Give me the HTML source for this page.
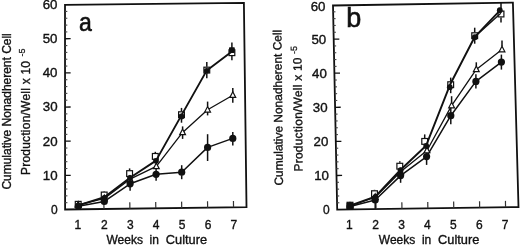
<!DOCTYPE html>
<html><head><meta charset="utf-8"><style>
html,body{margin:0;padding:0;background:#fff;}
body{width:520px;height:246px;overflow:hidden;}
svg{display:block;filter:grayscale(1);}
.t{font-family:"Liberation Sans",sans-serif;font-size:12px;fill:#111;stroke:#111;stroke-width:0.35px;}
.sup{font-family:"Liberation Sans",sans-serif;font-size:9px;fill:#111;stroke:#111;stroke-width:0.25px;}
.pl{font-family:"Liberation Sans",sans-serif;font-size:27px;fill:#111;stroke:#111;stroke-width:0.6px;}
</style></head><body>
<svg width="520" height="246" viewBox="0 0 520 246">
<rect width="520" height="246" fill="#fff"/>
<polygon points="65.00,4.90 243.90,2.80 246.50,207.20 65.10,209.50" fill="none" stroke="#111" stroke-width="1.8" stroke-linejoin="miter"/>
<line x1="65.10" y1="202.67" x2="67.40" y2="202.67" stroke="#444" stroke-width="1.1"/>
<line x1="65.09" y1="195.84" x2="67.39" y2="195.84" stroke="#444" stroke-width="1.1"/>
<line x1="65.09" y1="189.01" x2="67.39" y2="189.01" stroke="#444" stroke-width="1.1"/>
<line x1="65.09" y1="182.18" x2="67.39" y2="182.18" stroke="#444" stroke-width="1.1"/>
<line x1="65.08" y1="175.35" x2="70.68" y2="175.28" stroke="#111" stroke-width="1.3"/>
<line x1="65.08" y1="168.52" x2="67.38" y2="168.52" stroke="#444" stroke-width="1.1"/>
<line x1="65.08" y1="161.69" x2="67.38" y2="161.69" stroke="#444" stroke-width="1.1"/>
<line x1="65.07" y1="154.86" x2="67.37" y2="154.86" stroke="#444" stroke-width="1.1"/>
<line x1="65.07" y1="148.03" x2="67.37" y2="148.03" stroke="#444" stroke-width="1.1"/>
<line x1="65.07" y1="141.20" x2="70.67" y2="141.13" stroke="#111" stroke-width="1.3"/>
<line x1="65.06" y1="134.37" x2="67.36" y2="134.37" stroke="#444" stroke-width="1.1"/>
<line x1="65.06" y1="127.54" x2="67.36" y2="127.54" stroke="#444" stroke-width="1.1"/>
<line x1="65.06" y1="120.71" x2="67.36" y2="120.71" stroke="#444" stroke-width="1.1"/>
<line x1="65.05" y1="113.88" x2="67.35" y2="113.88" stroke="#444" stroke-width="1.1"/>
<line x1="65.05" y1="107.05" x2="70.65" y2="106.98" stroke="#111" stroke-width="1.3"/>
<line x1="65.05" y1="100.22" x2="67.35" y2="100.22" stroke="#444" stroke-width="1.1"/>
<line x1="65.04" y1="93.39" x2="67.34" y2="93.39" stroke="#444" stroke-width="1.1"/>
<line x1="65.04" y1="86.56" x2="67.34" y2="86.56" stroke="#444" stroke-width="1.1"/>
<line x1="65.04" y1="79.73" x2="67.34" y2="79.73" stroke="#444" stroke-width="1.1"/>
<line x1="65.03" y1="72.90" x2="70.63" y2="72.83" stroke="#111" stroke-width="1.3"/>
<line x1="65.03" y1="66.07" x2="67.33" y2="66.07" stroke="#444" stroke-width="1.1"/>
<line x1="65.03" y1="59.24" x2="67.33" y2="59.24" stroke="#444" stroke-width="1.1"/>
<line x1="65.02" y1="52.41" x2="67.32" y2="52.41" stroke="#444" stroke-width="1.1"/>
<line x1="65.02" y1="45.58" x2="67.32" y2="45.58" stroke="#444" stroke-width="1.1"/>
<line x1="65.02" y1="38.75" x2="70.62" y2="38.68" stroke="#111" stroke-width="1.3"/>
<line x1="65.01" y1="31.92" x2="67.31" y2="31.92" stroke="#444" stroke-width="1.1"/>
<line x1="65.01" y1="25.09" x2="67.31" y2="25.09" stroke="#444" stroke-width="1.1"/>
<line x1="65.01" y1="18.26" x2="67.31" y2="18.26" stroke="#444" stroke-width="1.1"/>
<line x1="65.00" y1="11.43" x2="67.30" y2="11.43" stroke="#444" stroke-width="1.1"/>
<line x1="78.06" y1="209.34" x2="77.96" y2="202.94" stroke="#333" stroke-width="1.2"/>
<line x1="103.97" y1="209.01" x2="103.87" y2="202.61" stroke="#333" stroke-width="1.2"/>
<line x1="129.89" y1="208.68" x2="129.79" y2="202.28" stroke="#333" stroke-width="1.2"/>
<line x1="155.80" y1="208.35" x2="155.70" y2="201.95" stroke="#333" stroke-width="1.2"/>
<line x1="181.71" y1="208.02" x2="181.61" y2="201.62" stroke="#333" stroke-width="1.2"/>
<line x1="207.63" y1="207.69" x2="207.53" y2="201.29" stroke="#333" stroke-width="1.2"/>
<line x1="233.54" y1="207.36" x2="233.44" y2="200.96" stroke="#333" stroke-width="1.2"/>
<polyline points="78.30,206.30 104.30,201.40 130.10,183.80 156.10,174.30 181.70,172.20 207.60,147.40 232.80,138.40" fill="none" stroke="#111" stroke-width="1.5" stroke-linejoin="round"/>
<polyline points="78.20,205.00 104.30,198.40 130.00,179.20 156.30,166.40 182.60,132.40 207.60,109.80 232.80,95.20" fill="none" stroke="#111" stroke-width="1.3" stroke-linejoin="round"/>
<polyline points="78.20,205.40 104.30,197.20 130.00,177.80 156.00,160.60 181.40,115.40 206.80,70.40 231.90,51.60" fill="none" stroke="#111" stroke-width="1.9" stroke-linejoin="round"/>
<line x1="130.10" y1="176.80" x2="130.10" y2="180.80" stroke="#111" stroke-width="1.5"/>
<line x1="130.10" y1="186.80" x2="130.10" y2="190.80" stroke="#111" stroke-width="1.5"/>
<line x1="156.10" y1="169.00" x2="156.10" y2="171.30" stroke="#111" stroke-width="1.5"/>
<line x1="156.10" y1="177.30" x2="156.10" y2="180.80" stroke="#111" stroke-width="1.5"/>
<line x1="181.70" y1="165.20" x2="181.70" y2="169.20" stroke="#111" stroke-width="1.5"/>
<line x1="181.70" y1="175.20" x2="181.70" y2="179.20" stroke="#111" stroke-width="1.5"/>
<line x1="207.60" y1="134.20" x2="207.60" y2="144.40" stroke="#111" stroke-width="1.5"/>
<line x1="207.60" y1="150.40" x2="207.60" y2="161.00" stroke="#111" stroke-width="1.5"/>
<line x1="232.80" y1="132.00" x2="232.80" y2="135.40" stroke="#111" stroke-width="1.5"/>
<line x1="232.80" y1="141.40" x2="232.80" y2="145.40" stroke="#111" stroke-width="1.5"/>
<line x1="182.60" y1="126.40" x2="182.60" y2="129.40" stroke="#111" stroke-width="1.5"/>
<line x1="182.60" y1="134.40" x2="182.60" y2="138.90" stroke="#111" stroke-width="1.5"/>
<line x1="207.60" y1="101.60" x2="207.60" y2="106.80" stroke="#111" stroke-width="1.5"/>
<line x1="207.60" y1="111.80" x2="207.60" y2="115.40" stroke="#111" stroke-width="1.5"/>
<line x1="232.80" y1="88.00" x2="232.80" y2="92.20" stroke="#111" stroke-width="1.5"/>
<line x1="232.80" y1="97.20" x2="232.80" y2="102.80" stroke="#111" stroke-width="1.5"/>
<line x1="104.20" y1="191.00" x2="104.20" y2="191.60" stroke="#111" stroke-width="1.5"/>
<line x1="129.60" y1="168.40" x2="129.60" y2="170.20" stroke="#111" stroke-width="1.5"/>
<line x1="155.30" y1="151.80" x2="155.30" y2="153.00" stroke="#111" stroke-width="1.5"/>
<line x1="181.50" y1="107.90" x2="181.50" y2="111.30" stroke="#111" stroke-width="1.5"/>
<line x1="181.50" y1="118.10" x2="181.50" y2="122.70" stroke="#111" stroke-width="1.5"/>
<line x1="206.80" y1="62.10" x2="206.80" y2="66.70" stroke="#111" stroke-width="1.5"/>
<line x1="206.80" y1="73.50" x2="206.80" y2="78.20" stroke="#111" stroke-width="1.5"/>
<line x1="231.90" y1="42.50" x2="231.90" y2="49.30" stroke="#111" stroke-width="1.5"/>
<line x1="231.90" y1="56.10" x2="231.90" y2="60.30" stroke="#111" stroke-width="1.5"/>
<polygon points="78.20,201.64 81.10,207.24 75.30,207.24" fill="#fff" stroke="#111" stroke-width="1.2"/>
<polygon points="104.30,195.04 107.20,200.64 101.40,200.64" fill="#fff" stroke="#111" stroke-width="1.2"/>
<polygon points="130.00,175.84 132.90,181.44 127.10,181.44" fill="#fff" stroke="#111" stroke-width="1.2"/>
<polygon points="156.30,163.04 159.20,168.64 153.40,168.64" fill="#fff" stroke="#111" stroke-width="1.2"/>
<polygon points="182.60,129.04 185.50,134.64 179.70,134.64" fill="#fff" stroke="#111" stroke-width="1.2"/>
<polygon points="207.60,106.44 210.50,112.04 204.70,112.04" fill="#fff" stroke="#111" stroke-width="1.2"/>
<polygon points="232.80,91.84 235.70,97.44 229.90,97.44" fill="#fff" stroke="#111" stroke-width="1.2"/>
<rect x="75.30" y="201.40" width="5.8" height="5.8" fill="none" stroke="#111" stroke-width="1.2"/>
<rect x="101.30" y="192.10" width="5.8" height="5.8" fill="none" stroke="#111" stroke-width="1.2"/>
<rect x="126.70" y="170.70" width="5.8" height="5.8" fill="none" stroke="#111" stroke-width="1.2"/>
<rect x="152.40" y="153.50" width="5.8" height="5.8" fill="none" stroke="#111" stroke-width="1.2"/>
<rect x="178.60" y="111.80" width="5.8" height="5.8" fill="none" stroke="#111" stroke-width="1.2"/>
<rect x="203.90" y="67.20" width="5.8" height="5.8" fill="none" stroke="#111" stroke-width="1.2"/>
<rect x="229.00" y="49.80" width="5.8" height="5.8" fill="none" stroke="#111" stroke-width="1.2"/>
<circle cx="78.20" cy="205.80" r="2.9" fill="#111"/>
<circle cx="104.40" cy="198.00" r="2.9" fill="#111"/>
<circle cx="130.00" cy="178.00" r="2.9" fill="#111"/>
<circle cx="156.00" cy="160.80" r="2.9" fill="#111"/>
<circle cx="181.50" cy="116.50" r="3.0" fill="#111"/>
<circle cx="206.70" cy="70.80" r="2.8" fill="#111"/>
<rect x="229.00" y="47.30" width="5.8" height="5.8" rx="0.8" fill="#111"/>
<circle cx="78.30" cy="206.30" r="3.6" fill="#111"/>
<circle cx="104.30" cy="201.40" r="3.6" fill="#111"/>
<circle cx="130.10" cy="183.80" r="3.6" fill="#111"/>
<circle cx="156.10" cy="174.30" r="3.6" fill="#111"/>
<circle cx="181.70" cy="172.20" r="3.6" fill="#111"/>
<circle cx="207.60" cy="147.40" r="3.6" fill="#111"/>
<circle cx="232.80" cy="138.40" r="3.6" fill="#111"/>
<text x="57.70" y="214.10" text-anchor="end" class="t">0</text>
<text x="57.58" y="179.75" text-anchor="end" class="t" textLength="14.8" lengthAdjust="spacingAndGlyphs">10</text>
<text x="57.57" y="145.60" text-anchor="end" class="t" textLength="14.8" lengthAdjust="spacingAndGlyphs">20</text>
<text x="57.55" y="111.45" text-anchor="end" class="t" textLength="14.8" lengthAdjust="spacingAndGlyphs">30</text>
<text x="57.53" y="77.30" text-anchor="end" class="t" textLength="14.8" lengthAdjust="spacingAndGlyphs">40</text>
<text x="57.52" y="43.15" text-anchor="end" class="t" textLength="14.8" lengthAdjust="spacingAndGlyphs">50</text>
<text x="57.50" y="9.00" text-anchor="end" class="t" textLength="14.8" lengthAdjust="spacingAndGlyphs">60</text>
<text x="77.96" y="228.7" text-anchor="middle" class="t">1</text>
<text x="104.37" y="228.7" text-anchor="middle" class="t">2</text>
<text x="130.29" y="228.7" text-anchor="middle" class="t">3</text>
<text x="156.20" y="228.7" text-anchor="middle" class="t">4</text>
<text x="182.11" y="228.7" text-anchor="middle" class="t">5</text>
<text x="208.03" y="228.7" text-anchor="middle" class="t">6</text>
<text x="233.94" y="228.7" text-anchor="middle" class="t">7</text>
<polygon points="333.00,5.50 512.90,2.60 518.50,207.10 337.20,209.60" fill="none" stroke="#111" stroke-width="1.8" stroke-linejoin="miter"/>
<line x1="337.06" y1="202.78" x2="339.36" y2="202.78" stroke="#444" stroke-width="1.1"/>
<line x1="336.92" y1="195.96" x2="339.22" y2="195.96" stroke="#444" stroke-width="1.1"/>
<line x1="336.78" y1="189.14" x2="339.08" y2="189.14" stroke="#444" stroke-width="1.1"/>
<line x1="336.64" y1="182.32" x2="338.94" y2="182.32" stroke="#444" stroke-width="1.1"/>
<line x1="336.50" y1="175.50" x2="342.10" y2="175.43" stroke="#111" stroke-width="1.3"/>
<line x1="336.36" y1="168.68" x2="338.66" y2="168.68" stroke="#444" stroke-width="1.1"/>
<line x1="336.22" y1="161.86" x2="338.52" y2="161.86" stroke="#444" stroke-width="1.1"/>
<line x1="336.08" y1="155.04" x2="338.38" y2="155.04" stroke="#444" stroke-width="1.1"/>
<line x1="335.94" y1="148.22" x2="338.24" y2="148.22" stroke="#444" stroke-width="1.1"/>
<line x1="335.80" y1="141.40" x2="341.40" y2="141.33" stroke="#111" stroke-width="1.3"/>
<line x1="335.66" y1="134.58" x2="337.96" y2="134.58" stroke="#444" stroke-width="1.1"/>
<line x1="335.52" y1="127.76" x2="337.82" y2="127.76" stroke="#444" stroke-width="1.1"/>
<line x1="335.38" y1="120.94" x2="337.68" y2="120.94" stroke="#444" stroke-width="1.1"/>
<line x1="335.24" y1="114.12" x2="337.54" y2="114.12" stroke="#444" stroke-width="1.1"/>
<line x1="335.10" y1="107.30" x2="340.70" y2="107.23" stroke="#111" stroke-width="1.3"/>
<line x1="334.96" y1="100.48" x2="337.26" y2="100.48" stroke="#444" stroke-width="1.1"/>
<line x1="334.82" y1="93.66" x2="337.12" y2="93.66" stroke="#444" stroke-width="1.1"/>
<line x1="334.68" y1="86.84" x2="336.98" y2="86.84" stroke="#444" stroke-width="1.1"/>
<line x1="334.54" y1="80.02" x2="336.84" y2="80.02" stroke="#444" stroke-width="1.1"/>
<line x1="334.40" y1="73.20" x2="340.00" y2="73.13" stroke="#111" stroke-width="1.3"/>
<line x1="334.26" y1="66.38" x2="336.56" y2="66.38" stroke="#444" stroke-width="1.1"/>
<line x1="334.12" y1="59.56" x2="336.42" y2="59.56" stroke="#444" stroke-width="1.1"/>
<line x1="333.98" y1="52.74" x2="336.28" y2="52.74" stroke="#444" stroke-width="1.1"/>
<line x1="333.84" y1="45.92" x2="336.14" y2="45.92" stroke="#444" stroke-width="1.1"/>
<line x1="333.70" y1="39.10" x2="339.30" y2="39.03" stroke="#111" stroke-width="1.3"/>
<line x1="333.56" y1="32.28" x2="335.86" y2="32.28" stroke="#444" stroke-width="1.1"/>
<line x1="333.42" y1="25.46" x2="335.72" y2="25.46" stroke="#444" stroke-width="1.1"/>
<line x1="333.28" y1="18.64" x2="335.58" y2="18.64" stroke="#444" stroke-width="1.1"/>
<line x1="333.14" y1="11.82" x2="335.44" y2="11.82" stroke="#444" stroke-width="1.1"/>
<line x1="350.15" y1="209.42" x2="350.05" y2="203.02" stroke="#333" stroke-width="1.2"/>
<line x1="376.05" y1="209.06" x2="375.95" y2="202.66" stroke="#333" stroke-width="1.2"/>
<line x1="401.95" y1="208.71" x2="401.85" y2="202.31" stroke="#333" stroke-width="1.2"/>
<line x1="427.85" y1="208.35" x2="427.75" y2="201.95" stroke="#333" stroke-width="1.2"/>
<line x1="453.75" y1="207.99" x2="453.65" y2="201.59" stroke="#333" stroke-width="1.2"/>
<line x1="479.65" y1="207.64" x2="479.55" y2="201.24" stroke="#333" stroke-width="1.2"/>
<line x1="505.55" y1="207.28" x2="505.45" y2="200.88" stroke="#333" stroke-width="1.2"/>
<polyline points="350.00,206.40 375.20,200.00 400.60,175.60 426.60,156.60 450.80,115.70 475.90,81.40 501.40,62.10" fill="none" stroke="#111" stroke-width="1.5" stroke-linejoin="round"/>
<polyline points="350.00,206.00 375.20,197.20 400.60,171.80 427.00,150.50 451.60,105.60 476.30,69.40 502.00,49.60" fill="none" stroke="#111" stroke-width="1.3" stroke-linejoin="round"/>
<polyline points="350.00,205.60 375.20,196.60 400.40,170.00 426.00,145.80 450.00,84.80 474.80,36.80 499.80,10.60" fill="none" stroke="#111" stroke-width="1.9" stroke-linejoin="round"/>
<polyline points="474.80,36.80 500.80,13.20" fill="none" stroke="#111" stroke-width="1.3" stroke-linejoin="round"/>
<line x1="375.20" y1="203.00" x2="375.20" y2="208.80" stroke="#111" stroke-width="1.5"/>
<line x1="400.60" y1="168.60" x2="400.60" y2="172.60" stroke="#111" stroke-width="1.5"/>
<line x1="400.60" y1="178.60" x2="400.60" y2="182.80" stroke="#111" stroke-width="1.5"/>
<line x1="426.60" y1="148.30" x2="426.60" y2="153.60" stroke="#111" stroke-width="1.5"/>
<line x1="426.60" y1="159.60" x2="426.60" y2="164.90" stroke="#111" stroke-width="1.5"/>
<line x1="450.80" y1="107.20" x2="450.80" y2="112.70" stroke="#111" stroke-width="1.5"/>
<line x1="450.80" y1="118.70" x2="450.80" y2="124.20" stroke="#111" stroke-width="1.5"/>
<line x1="475.90" y1="74.30" x2="475.90" y2="78.40" stroke="#111" stroke-width="1.5"/>
<line x1="475.90" y1="84.40" x2="475.90" y2="88.50" stroke="#111" stroke-width="1.5"/>
<line x1="501.40" y1="54.60" x2="501.40" y2="59.10" stroke="#111" stroke-width="1.5"/>
<line x1="501.40" y1="65.10" x2="501.40" y2="69.60" stroke="#111" stroke-width="1.5"/>
<line x1="451.60" y1="96.20" x2="451.60" y2="102.60" stroke="#111" stroke-width="1.5"/>
<line x1="476.30" y1="62.30" x2="476.30" y2="66.40" stroke="#111" stroke-width="1.5"/>
<line x1="502.00" y1="40.50" x2="502.00" y2="46.60" stroke="#111" stroke-width="1.5"/>
<line x1="374.50" y1="189.80" x2="374.50" y2="190.30" stroke="#111" stroke-width="1.5"/>
<line x1="399.80" y1="161.20" x2="399.80" y2="162.80" stroke="#111" stroke-width="1.5"/>
<line x1="424.70" y1="134.40" x2="424.70" y2="138.00" stroke="#111" stroke-width="1.5"/>
<line x1="450.70" y1="77.60" x2="450.70" y2="81.30" stroke="#111" stroke-width="1.5"/>
<line x1="450.70" y1="88.10" x2="450.70" y2="93.20" stroke="#111" stroke-width="1.5"/>
<line x1="474.70" y1="27.70" x2="474.70" y2="32.30" stroke="#111" stroke-width="1.5"/>
<line x1="474.70" y1="39.10" x2="474.70" y2="43.70" stroke="#111" stroke-width="1.5"/>
<line x1="501.00" y1="2.80" x2="501.00" y2="10.60" stroke="#111" stroke-width="1.5"/>
<line x1="501.00" y1="17.40" x2="501.00" y2="22.40" stroke="#111" stroke-width="1.5"/>
<polygon points="350.00,202.64 352.90,208.24 347.10,208.24" fill="#fff" stroke="#111" stroke-width="1.2"/>
<polygon points="375.20,193.84 378.10,199.44 372.30,199.44" fill="#fff" stroke="#111" stroke-width="1.2"/>
<polygon points="400.60,168.44 403.50,174.04 397.70,174.04" fill="#fff" stroke="#111" stroke-width="1.2"/>
<polygon points="427.00,147.14 429.90,152.74 424.10,152.74" fill="#fff" stroke="#111" stroke-width="1.2"/>
<polygon points="451.60,102.24 454.50,107.84 448.70,107.84" fill="#fff" stroke="#111" stroke-width="1.2"/>
<polygon points="476.30,66.04 479.20,71.64 473.40,71.64" fill="#fff" stroke="#111" stroke-width="1.2"/>
<polygon points="502.00,46.24 504.90,51.84 499.10,51.84" fill="#fff" stroke="#111" stroke-width="1.2"/>
<rect x="347.10" y="202.30" width="5.8" height="5.8" fill="none" stroke="#111" stroke-width="1.2"/>
<rect x="371.60" y="190.80" width="5.8" height="5.8" fill="none" stroke="#111" stroke-width="1.2"/>
<rect x="396.90" y="163.30" width="5.8" height="5.8" fill="none" stroke="#111" stroke-width="1.2"/>
<rect x="421.80" y="138.50" width="5.8" height="5.8" fill="none" stroke="#111" stroke-width="1.2"/>
<rect x="447.80" y="81.80" width="5.8" height="5.8" fill="none" stroke="#111" stroke-width="1.2"/>
<rect x="471.80" y="32.80" width="5.8" height="5.8" fill="none" stroke="#111" stroke-width="1.2"/>
<rect x="498.10" y="11.10" width="5.8" height="5.8" fill="none" stroke="#111" stroke-width="1.2"/>
<rect x="346.70" y="202.50" width="6.6" height="6.6" rx="0.8" fill="#111"/>
<circle cx="375.40" cy="196.80" r="2.9" fill="#111"/>
<circle cx="400.60" cy="170.20" r="2.9" fill="#111"/>
<circle cx="426.20" cy="146.00" r="2.9" fill="#111"/>
<circle cx="449.80" cy="87.20" r="2.9" fill="#111"/>
<circle cx="474.80" cy="37.20" r="2.9" fill="#111"/>
<circle cx="499.80" cy="10.20" r="2.9" fill="#111"/>
<circle cx="350.00" cy="206.40" r="3.6" fill="#111"/>
<circle cx="375.20" cy="200.00" r="3.6" fill="#111"/>
<circle cx="400.60" cy="175.60" r="3.6" fill="#111"/>
<circle cx="426.60" cy="156.60" r="3.6" fill="#111"/>
<circle cx="450.80" cy="115.70" r="3.6" fill="#111"/>
<circle cx="475.90" cy="81.40" r="3.6" fill="#111"/>
<circle cx="501.40" cy="62.10" r="3.6" fill="#111"/>
<text x="329.80" y="214.20" text-anchor="end" class="t">0</text>
<text x="329.00" y="179.90" text-anchor="end" class="t" textLength="14.8" lengthAdjust="spacingAndGlyphs">10</text>
<text x="328.30" y="145.80" text-anchor="end" class="t" textLength="14.8" lengthAdjust="spacingAndGlyphs">20</text>
<text x="327.60" y="111.70" text-anchor="end" class="t" textLength="14.8" lengthAdjust="spacingAndGlyphs">30</text>
<text x="326.90" y="77.60" text-anchor="end" class="t" textLength="14.8" lengthAdjust="spacingAndGlyphs">40</text>
<text x="326.20" y="43.50" text-anchor="end" class="t" textLength="14.8" lengthAdjust="spacingAndGlyphs">50</text>
<text x="325.50" y="10.70" text-anchor="end" class="t" textLength="14.8" lengthAdjust="spacingAndGlyphs">60</text>
<text x="349.25" y="228.7" text-anchor="middle" class="t">1</text>
<text x="375.65" y="228.7" text-anchor="middle" class="t">2</text>
<text x="401.55" y="228.7" text-anchor="middle" class="t">3</text>
<text x="427.45" y="228.7" text-anchor="middle" class="t">4</text>
<text x="453.35" y="228.7" text-anchor="middle" class="t">5</text>
<text x="479.25" y="228.7" text-anchor="middle" class="t">6</text>
<text x="505.15" y="228.7" text-anchor="middle" class="t">7</text>
<text x="106.50" y="243.7" class="t">Weeks</text><text x="149.60" y="243.7" class="t">in</text><text x="165.80" y="243.7" class="t" textLength="41.2" lengthAdjust="spacingAndGlyphs">Culture</text>
<text x="378.80" y="243.7" class="t">Weeks</text><text x="421.90" y="243.7" class="t">in</text><text x="438.10" y="243.7" class="t" textLength="41.2" lengthAdjust="spacingAndGlyphs">Culture</text>
<text transform="translate(10.8,189.6) rotate(-90.0)" class="t" textLength="156.4" lengthAdjust="spacing">Cumulative Nonadherent Cell</text>
<text transform="translate(30.1,175.0) rotate(-90.0)" class="t" textLength="114.0" lengthAdjust="spacing">Production/Well x 10</text>
<text transform="translate(24.90,56.40) rotate(-90.0)" class="sup">-5</text>
<text transform="translate(282.9,185.6) rotate(-90.55)" class="t" textLength="155.8" lengthAdjust="spacing">Cumulative Nonadherent Cell</text>
<text transform="translate(302.6,171.5) rotate(-90.55)" class="t" textLength="114.0" lengthAdjust="spacing">Production/Well x 10</text>
<text transform="translate(297.06,53.91) rotate(-90.55)" class="sup">-5</text>
<text x="79.1" y="30.6" class="pl" style="font-size:25.5px" textLength="12.8" lengthAdjust="spacingAndGlyphs">a</text>
<text x="346.2" y="26.9" class="pl">b</text>
</svg>
</body></html>
